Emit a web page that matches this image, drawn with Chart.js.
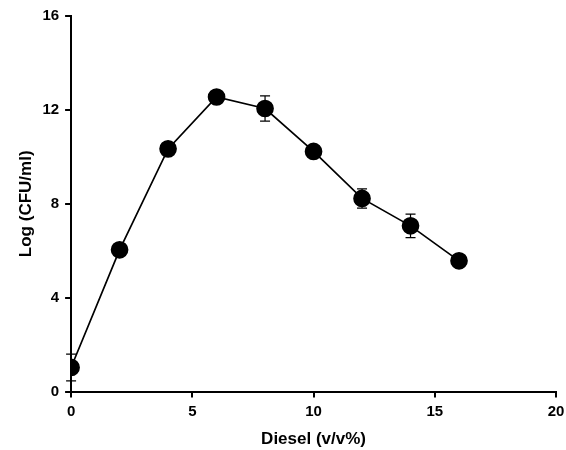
<!DOCTYPE html>
<html>
<head>
<meta charset="utf-8">
<script src="https://cdn.jsdelivr.net/npm/chart.js@4"></script>
<style>
  html, body { margin: 0; padding: 0; background: #fff; }
</style>
</head>
<body>
<canvas id="myChart" width="566" height="450"></canvas>
<script>
// diesel concentration (v/v%) and log counts
var diesel = [0, 2, 4, 6, 8, 10, 12, 14, 16];
var logCfu = [1.03, 6.04, 10.34, 12.55, 12.06, 10.23, 8.23, 7.06, 5.57];
var errCfu = [0.57, 0, 0, 0, 0.54, 0, 0.41, 0.5, 0];

var points = diesel.map(function(d, i) {
    return { x: d, y: logCfu[i] };
});

// draws the vertical error bars with caps
var errorBars = {
    id: 'errorBars',
    beforeDatasetsDraw: function(chart) {
        var ctx = chart.ctx;
        var xs = chart.scales.x, ys = chart.scales.y;
        ctx.save();
        ctx.strokeStyle = '#000';
        ctx.lineWidth = 1.2;
        diesel.forEach(function(d, i) {
            if (!errCfu[i]) return;
            var px = xs.getPixelForValue(d);
            var top = ys.getPixelForValue(logCfu[i] + errCfu[i]);
            var bot = ys.getPixelForValue(logCfu[i] - errCfu[i]);
            ctx.beginPath();
            ctx.moveTo(px, top); ctx.lineTo(px, bot);
            ctx.moveTo(px - 5, top); ctx.lineTo(px + 5, top);
            ctx.moveTo(px - 5, bot); ctx.lineTo(px + 5, bot);
            ctx.stroke();
        });
        ctx.restore();
    }
};

var tickFont = { family: 'Liberation Sans, Arial, sans-serif', size: 15, weight: 'bold' };
var titleFont = { family: 'Liberation Sans, Arial, sans-serif', size: 17, weight: 'bold' };

var myChart = new Chart(document.getElementById('myChart'), {
    type: 'scatter',
    data: {
        datasets: [{
            data: points,
            showLine: true,
            borderColor: '#000',
            borderWidth: 1.7,
            backgroundColor: '#000',
            pointBackgroundColor: '#000',
            pointBorderColor: '#000',
            pointRadius: 8,
            pointHoverRadius: 8
        }]
    },
    options: {
        responsive: false,
        animation: false,
        layout: { padding: { top: 16, right: 0, left: 12, bottom: 0 } },
        plugins: { legend: { display: false }, tooltip: { enabled: false } },
        scales: {
            x: {
                type: 'linear',
                min: 0, max: 20,
                afterFit: function(scale) { scale.paddingRight = 10; },
                border: { display: true, color: '#000', width: 2 },
                grid: { drawOnChartArea: false, drawTicks: true, tickLength: 6, color: '#000', lineWidth: 2 },
                ticks: { stepSize: 5, color: '#000', font: tickFont, padding: 5 },
                title: { display: true, text: 'Diesel (v/v%)', color: '#000', font: titleFont, padding: { top: 4, bottom: 0 } }
            },
            y: {
                min: 0, max: 16,
                afterFit: function(scale) { scale.paddingTop = 0; },
                border: { display: true, color: '#000', width: 2 },
                grid: { drawOnChartArea: false, drawTicks: true, tickLength: 6, color: '#000', lineWidth: 2 },
                ticks: { stepSize: 4, color: '#000', font: tickFont, padding: 6 },
                title: { display: true, text: 'Log (CFU/ml)', color: '#000', font: titleFont, padding: { bottom: 0 } }
            }
        }
    },
    plugins: [errorBars]
});
</script>
</body>
</html>
